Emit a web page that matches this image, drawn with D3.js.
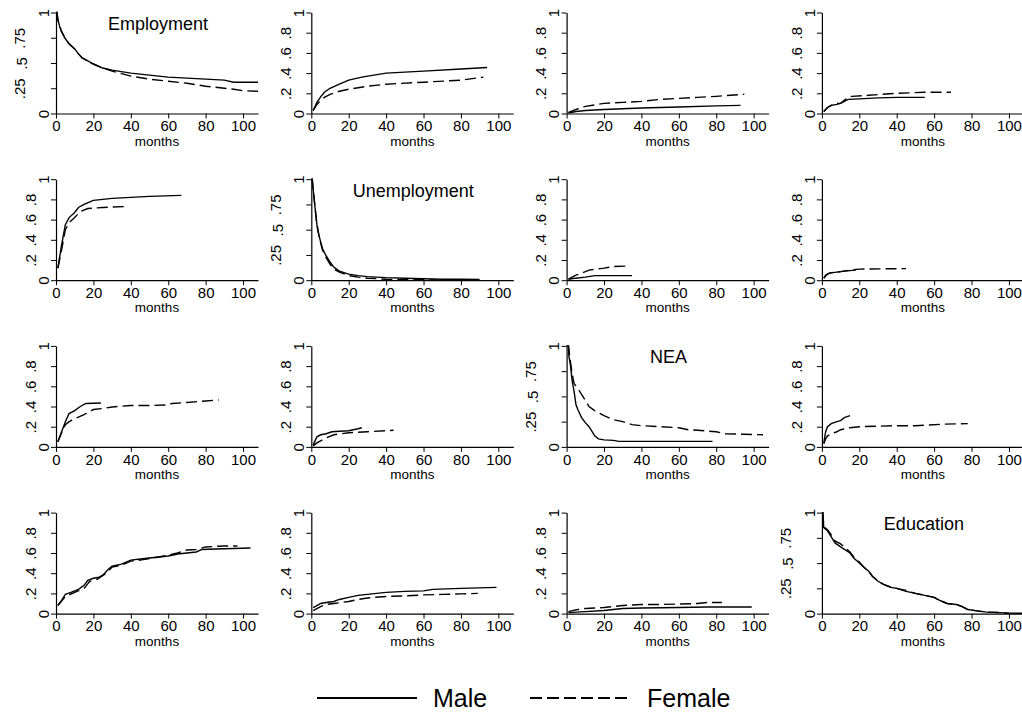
<!DOCTYPE html>
<html><head><meta charset="utf-8">
<script src="https://cdn.jsdelivr.net/npm/d3@7"></script>
<style>body{margin:0;background:#fff}svg{display:block}text{font-family:"Liberation Sans",Arial,sans-serif;fill:#000}</style>
</head><body><svg id="c" width="1022" height="715"></svg>
<script>
// ---------- data ----------
const states = ["Employment", "Unemployment", "NEA", "Education"];
const seriesNames = ["Male", "Female"];
const xTicks = [0, 20, 40, 60, 80, 100];
const xTickLabels = ["0", "20", "40", "60", "80", "100"];
const survTicks = [0, 0.25, 0.5, 0.75, 1];
const survTickLabels = ["0", ".25", ".5", ".75", "1"];
const cifTicks = [0, 0.2, 0.4, 0.6, 0.8, 1];
const cifTickLabels = ["0", ".2", ".4", ".6", ".8", "1"];
const xLabel = "months";

// [month, value]
const male_Emp_Emp = [[0,1],[0.5,1],[1,0.93],[2,0.86],[3,0.81],[5,0.74],[7,0.69],[10,0.64],[12,0.59],[14,0.55],[17,0.52],[20,0.49],[25,0.45],[30,0.43],[40,0.40],[50,0.38],[60,0.36],[70,0.35],[80,0.34],[90,0.33],[95,0.31],[108,0.31]];
const female_Emp_Emp = [[0,1],[0.5,1],[1,0.93],[2,0.86],[3,0.81],[5,0.74],[7,0.69],[10,0.64],[12,0.59],[14,0.55],[17,0.52],[20,0.49],[25,0.45],[30,0.42],[40,0.37],[50,0.34],[60,0.32],[70,0.30],[80,0.27],[90,0.25],[95,0.24],[100,0.225],[108,0.22]];
const male_Emp_Une = [[1,0.03],[3,0.11],[5,0.165],[7,0.21],[10,0.25],[15,0.29],[20,0.33],[27,0.36],[40,0.40],[60,0.42],[80,0.44],[94,0.455]];
const female_Emp_Une = [[1,0.03],[3,0.09],[5,0.13],[7,0.16],[10,0.19],[15,0.22],[20,0.24],[30,0.27],[40,0.29],[60,0.31],[80,0.33],[92,0.36]];
const male_Emp_NEA = [[1,0.005],[5,0.02],[10,0.03],[20,0.04],[40,0.055],[60,0.065],[80,0.075],[93,0.08]];
const female_Emp_NEA = [[1,0.01],[5,0.04],[10,0.07],[15,0.085],[20,0.10],[30,0.11],[40,0.12],[50,0.14],[60,0.15],[70,0.16],[80,0.17],[95,0.19]];
const male_Emp_Edu = [[1,0.02],[3,0.06],[5,0.08],[8,0.09],[10,0.10],[12,0.12],[14,0.14],[20,0.145],[30,0.155],[40,0.16],[55,0.16]];
const female_Emp_Edu = [[1,0.02],[3,0.06],[5,0.08],[7,0.10],[10,0.10],[12,0.13],[14,0.16],[16,0.17],[25,0.18],[40,0.20],[55,0.21],[69,0.21]];

const male_Une_Emp = [[1,0.12],[3,0.35],[5,0.55],[7,0.62],[10,0.67],[12,0.72],[15,0.75],[20,0.79],[30,0.81],[40,0.82],[50,0.83],[67,0.84]];
const female_Une_Emp = [[1,0.12],[3,0.30],[5,0.50],[7,0.57],[10,0.62],[13,0.68],[17,0.71],[25,0.72],[38,0.73]];
const male_Une_Une = [[0,1],[0.5,1],[1,0.9],[2,0.72],[3,0.55],[4,0.45],[5,0.38],[6,0.31],[8,0.24],[10,0.18],[12,0.13],[15,0.09],[20,0.06],[25,0.045],[30,0.035],[40,0.025],[50,0.02],[60,0.015],[70,0.01],[80,0.01],[90,0.008]];
const female_Une_Une = [[0,1],[0.5,1],[1,0.9],[2,0.72],[3,0.55],[4,0.45],[5,0.37],[6,0.30],[8,0.22],[10,0.16],[12,0.11],[15,0.08],[20,0.045],[25,0.03],[30,0.02],[40,0.01],[50,0.005],[67,0.003]];
const male_Une_NEA = [[1,0.01],[5,0.02],[10,0.03],[15,0.045],[35,0.045]];
const female_Une_NEA = [[1,0.01],[3,0.03],[5,0.05],[8,0.07],[12,0.10],[20,0.12],[25,0.135],[32,0.14]];
const male_Une_Edu = [[1,0.02],[2,0.05],[4,0.07],[8,0.08],[12,0.09],[18,0.10]];
const female_Une_Edu = [[1,0.02],[3,0.06],[5,0.075],[10,0.085],[15,0.10],[20,0.11],[45,0.115]];

const male_NEA_Emp = [[1,0.05],[3,0.15],[5,0.25],[7,0.33],[10,0.36],[13,0.40],[16,0.43],[24,0.435]];
const female_NEA_Emp = [[1,0.05],[3,0.14],[5,0.22],[7,0.25],[10,0.28],[15,0.32],[20,0.37],[25,0.38],[30,0.395],[40,0.41],[50,0.41],[60,0.415],[62,0.43],[70,0.44],[80,0.455],[87,0.465]];
const male_NEA_Une = [[1,0.02],[2,0.06],[3,0.10],[5,0.12],[8,0.13],[11,0.15],[15,0.155],[20,0.16],[25,0.18],[27,0.19]];
const female_NEA_Une = [[1,0.01],[3,0.04],[5,0.06],[8,0.09],[12,0.12],[16,0.13],[20,0.14],[30,0.15],[44,0.165]];
const male_NEA_NEA = [[0,1],[1,1],[1.2,0.9],[2,0.82],[3,0.65],[4,0.55],[5,0.42],[6,0.37],[7,0.33],[8,0.29],[10,0.24],[12,0.20],[13,0.17],[15,0.11],[17,0.08],[20,0.07],[25,0.065],[28,0.055],[40,0.055],[78,0.055]];
const female_NEA_NEA = [[0,1],[1,1],[2,0.85],[3,0.72],[4,0.63],[5,0.60],[7,0.55],[10,0.46],[12,0.40],[15,0.36],[20,0.31],[25,0.27],[30,0.25],[35,0.22],[40,0.21],[50,0.20],[60,0.19],[65,0.17],[70,0.165],[80,0.15],[85,0.13],[95,0.125],[105,0.12]];
const male_NEA_Edu = [[1,0.04],[2,0.15],[3,0.20],[5,0.23],[8,0.25],[10,0.26],[12,0.29],[15,0.31]];
const female_NEA_Edu = [[1,0.03],[2,0.08],[3,0.11],[5,0.13],[8,0.15],[10,0.17],[15,0.19],[20,0.20],[30,0.205],[40,0.21],[50,0.21],[55,0.215],[65,0.225],[78,0.23]];

const male_Edu_Emp = [[1,0.08],[3,0.13],[5,0.19],[8,0.21],[12,0.24],[15,0.28],[17,0.33],[20,0.35],[23,0.36],[25,0.38],[28,0.44],[30,0.47],[35,0.49],[40,0.53],[45,0.54],[50,0.55],[55,0.56],[60,0.57],[65,0.59],[70,0.60],[75,0.61],[78,0.635],[85,0.64],[95,0.645],[104,0.65]];
const female_Edu_Emp = [[1,0.08],[5,0.17],[10,0.21],[15,0.25],[18,0.32],[22,0.34],[27,0.40],[30,0.46],[35,0.48],[40,0.52],[45,0.53],[55,0.56],[60,0.58],[65,0.60],[70,0.63],[75,0.635],[80,0.66],[90,0.67],[97,0.67]];
const male_Edu_Une = [[1,0.06],[3,0.08],[5,0.10],[8,0.11],[12,0.12],[15,0.14],[20,0.16],[25,0.18],[30,0.19],[40,0.21],[50,0.22],[60,0.225],[65,0.24],[80,0.25],[99,0.26]];
const female_Edu_Une = [[1,0.03],[3,0.05],[5,0.07],[8,0.09],[12,0.10],[20,0.12],[25,0.14],[30,0.155],[40,0.17],[50,0.175],[60,0.185],[70,0.19],[80,0.195],[89,0.20]];
const male_Edu_NEA = [[1,0.01],[5,0.015],[10,0.02],[20,0.03],[25,0.04],[30,0.05],[40,0.055],[60,0.06],[75,0.065],[99,0.065]];
const female_Edu_NEA = [[1,0.02],[3,0.03],[6,0.04],[10,0.05],[15,0.055],[20,0.06],[25,0.07],[30,0.08],[40,0.09],[50,0.09],[60,0.095],[70,0.10],[75,0.11],[83,0.11]];
const male_Edu_Edu = [[0,1],[0.5,1],[1,0.85],[3,0.82],[5,0.76],[7,0.70],[10,0.66],[15,0.60],[17,0.55],[20,0.50],[23,0.45],[25,0.42],[27,0.37],[30,0.32],[33,0.29],[37,0.26],[40,0.25],[45,0.22],[50,0.20],[55,0.18],[60,0.16],[63,0.13],[67,0.10],[72,0.09],[75,0.07],[78,0.04],[82,0.03],[88,0.015],[95,0.01],[100,0.005],[108,0.003]];
const female_Edu_Edu = [[0,1],[0.5,1],[1,0.86],[3,0.83],[5,0.78],[7,0.72],[10,0.69],[15,0.61],[17,0.56],[20,0.51],[23,0.45],[25,0.42],[27,0.37],[30,0.32],[33,0.29],[37,0.26],[40,0.25],[45,0.23],[50,0.20],[55,0.18],[60,0.16],[63,0.13],[67,0.10],[72,0.09],[75,0.07],[78,0.04],[82,0.03],[88,0.015],[95,0.01],[100,0.005]];

const maleData = [
  [male_Emp_Emp, male_Emp_Une, male_Emp_NEA, male_Emp_Edu],
  [male_Une_Emp, male_Une_Une, male_Une_NEA, male_Une_Edu],
  [male_NEA_Emp, male_NEA_Une, male_NEA_NEA, male_NEA_Edu],
  [male_Edu_Emp, male_Edu_Une, male_Edu_NEA, male_Edu_Edu]];
const femaleData = [
  [female_Emp_Emp, female_Emp_Une, female_Emp_NEA, female_Emp_Edu],
  [female_Une_Emp, female_Une_Une, female_Une_NEA, female_Une_Edu],
  [female_NEA_Emp, female_NEA_Une, female_NEA_NEA, female_NEA_Edu],
  [female_Edu_Emp, female_Edu_Une, female_Edu_NEA, female_Edu_Edu]];

// ---------- layout ----------
const svg = d3.select("#c");
const pw = 202, ph = 101;
const colX = c => 56 + c * 255.3;
const rowY = r => 12.5 + r * 166.7;
const DASH = "11,5";

for (let r = 0; r < 4; r++) {
  for (let c = 0; c < 4; c++) {
    const diag = r === c;
    const g = svg.append("g").attr("transform", `translate(${colX(c)},${rowY(r)})`);
    const x = d3.scaleLinear().domain([0, 108]).range([0, pw]);
    const y = d3.scaleLinear().domain([0, 1]).range([ph, 0]);

    const xa = g.append("g").attr("transform", `translate(0,${ph})`)
      .call(d3.axisBottom(x).tickValues(xTicks).tickFormat((d, i) => xTickLabels[i]).tickSize(5).tickSizeOuter(0));
    xa.selectAll("text").attr("font-size", 15).attr("y", 7);
    const ticks = diag ? survTicks : cifTicks;
    const labs = diag ? survTickLabels : cifTickLabels;
    const ya = g.append("g")
      .call(d3.axisLeft(y).tickValues(ticks).tickFormat((d, i) => labs[i]).tickSize(5).tickSizeOuter(0));
    ya.selectAll("text")
      .attr("font-size", 15)
      .attr("text-anchor", "middle")
      .attr("x", 0).attr("dy", "0.35em")
      .attr("transform", function(d, i) {
        const t = labs[i];
        let off = t.length === 1 ? 12.5 : (diag ? 36 : 25.5);
        if (diag && t.length === 2) off = 34;
        return `translate(${-off},0) rotate(-90)`;
      });
    [xa, ya].forEach(a => {
      a.selectAll("path,line").attr("stroke", "#000").attr("stroke-width", 1);
      a.select(".domain").attr("stroke-width", 1.2);
      a.selectAll("text").attr("font-family", "Liberation Sans, Arial, sans-serif").attr("fill", "#000");
    });

    const line = d3.line().x(d => x(d[0])).y(d => y(d[1]));
    g.append("path").datum(maleData[r][c]).attr("d", line)
      .attr("fill", "none").attr("stroke", "#000").attr("stroke-width", 1.4);
    g.append("path").datum(femaleData[r][c]).attr("d", line)
      .attr("fill", "none").attr("stroke", "#000").attr("stroke-width", 1.4).attr("stroke-dasharray", DASH);

    if (diag) {
      g.append("text").attr("x", 102).attr("y", 17.5).attr("text-anchor", "middle")
        .attr("font-size", 18).text(states[r]);
    }
    g.append("text").attr("x", pw / 2).attr("y", ph + 32).attr("text-anchor", "middle")
      .attr("font-size", 13.5).text(xLabel);
  }
}

// legend
const lg = svg.append("g");
lg.append("line").attr("x1", 317).attr("x2", 417).attr("y1", 698).attr("y2", 698)
  .attr("stroke", "#000").attr("stroke-width", 2);
lg.append("text").attr("x", 433).attr("y", 707).attr("font-size", 25).text(seriesNames[0]);
lg.append("line").attr("x1", 530).attr("x2", 628).attr("y1", 698).attr("y2", 698)
  .attr("stroke", "#000").attr("stroke-width", 2).attr("stroke-dasharray", "12,5");
lg.append("text").attr("x", 647).attr("y", 707).attr("font-size", 25).text(seriesNames[1]);
</script></body></html>
